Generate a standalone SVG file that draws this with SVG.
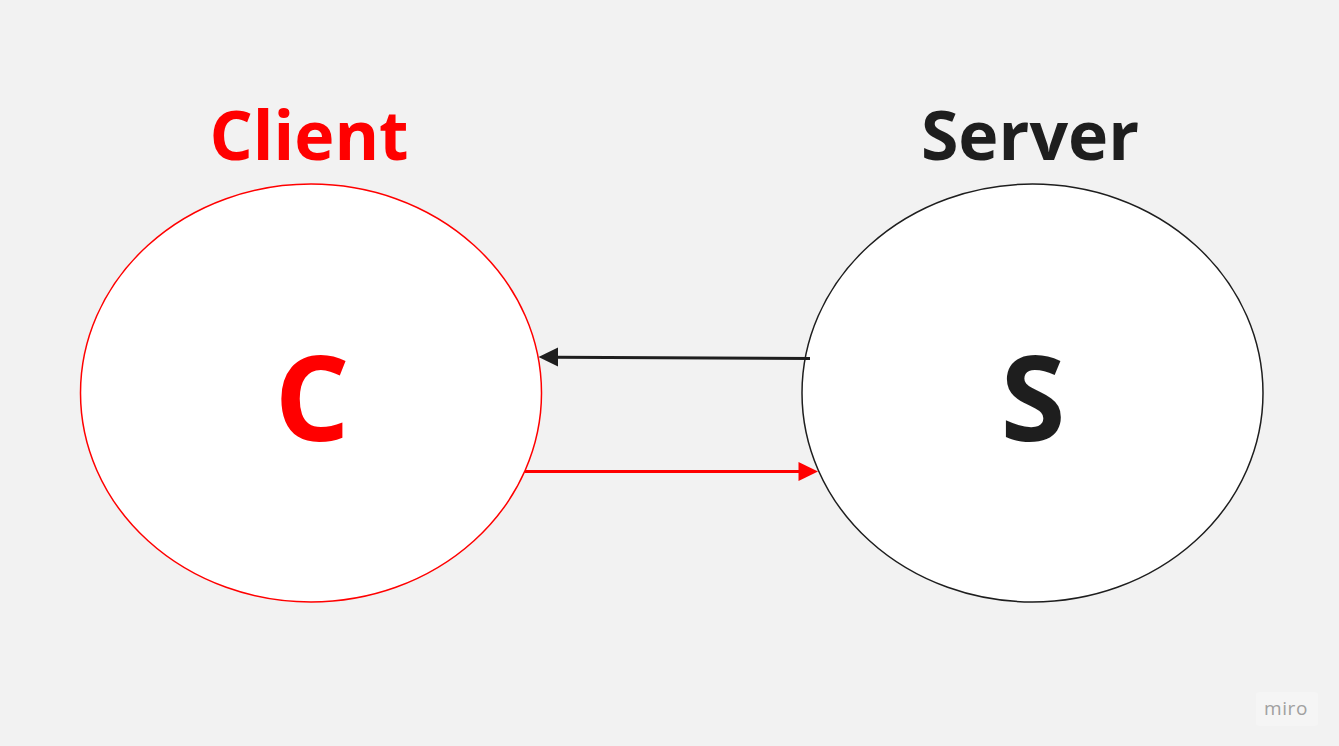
<svg xmlns="http://www.w3.org/2000/svg" width="1339" height="746" viewBox="0 0 1339 746">
<defs>
<style>
.lbl{font-family:"Open Sans","Noto Sans","Liberation Sans",sans-serif;font-weight:bold;text-anchor:middle}
</style>
</defs>
<rect width="1339" height="746" fill="#f2f2f2"/>
<g id="client">
<ellipse cx="311" cy="393" rx="230.5" ry="209" fill="#ffffff" stroke="#ff0000" stroke-width="1.5"/>
<text class="lbl" x="309" y="160" font-size="68" fill="#ff0000">Client</text>
<text class="lbl" x="312" y="441" font-size="118" fill="#ff0000">C</text>
</g>
<g id="server">
<ellipse cx="1032.5" cy="393" rx="230.5" ry="209" fill="#ffffff" stroke="#1e1e1e" stroke-width="1.5"/>
<text class="lbl" x="1030" y="160" font-size="68" fill="#1e1e1e">Server</text>
<text class="lbl" x="1033" y="441" font-size="118" fill="#1e1e1e">S</text>
</g>
<g id="connectors">
<line x1="810" y1="358.5" x2="555" y2="357.2" stroke="#1e1e1e" stroke-width="3"/>
<polygon points="538.5,357 558,347.5 558,366.5" fill="#1e1e1e"/>
<line x1="525" y1="471.5" x2="802" y2="471.5" stroke="#ff0000" stroke-width="3"/>
<polygon points="818,471.5 798.5,462 798.5,481" fill="#ff0000"/>
</g>
<g id="watermark">
<rect x="1256" y="692" width="62" height="34" rx="3" fill="#f5f5f5"/>
<text x="1286" y="715" font-family="'Open Sans','Noto Sans',sans-serif" font-size="19" fill="#a0a0a0" text-anchor="middle" letter-spacing="0.6">miro</text>
</g>
</svg>
